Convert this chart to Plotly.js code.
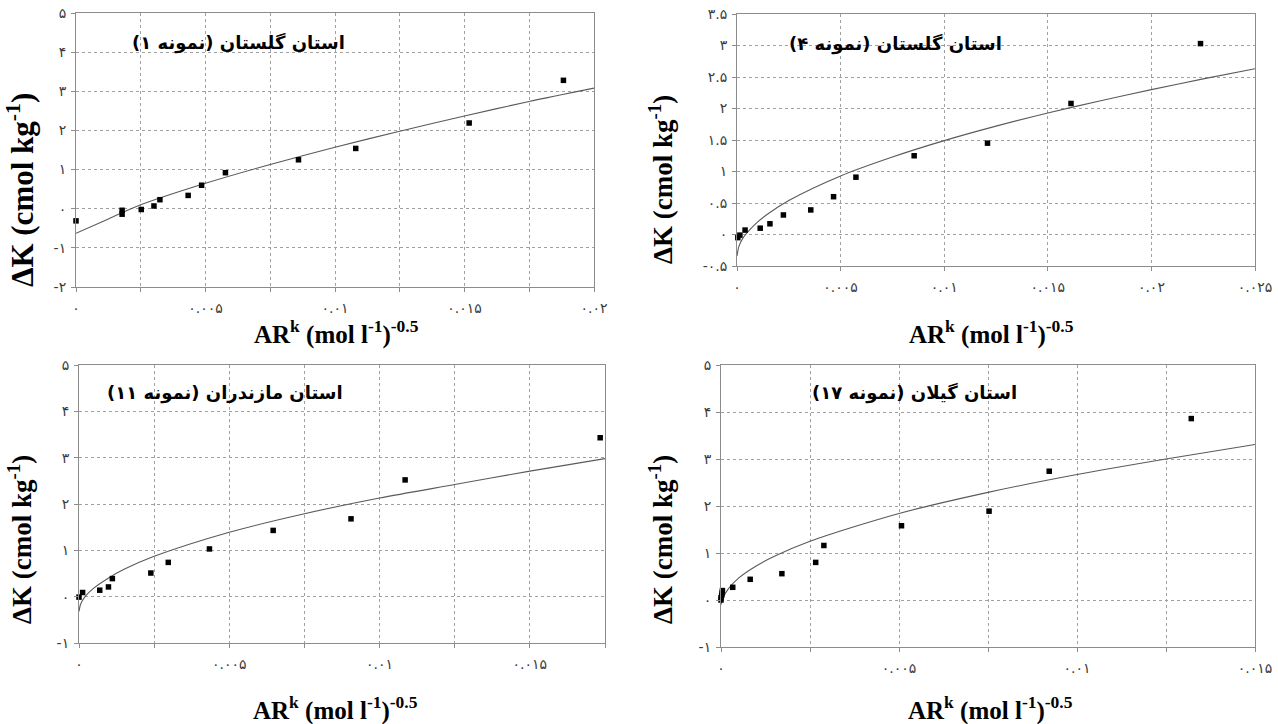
<!DOCTYPE html>
<html><head><meta charset="utf-8">
<script src="https://cdn.plot.ly/plotly-3.0.1.min.js"></script>
<style>html,body{margin:0;padding:0;background:#fff;}#chart{width:1278px;height:724px;}</style>
</head><body><div id="chart"></div>
<script>
// ---- Panel titles (Persian) ----
const panelTitles = [
  'استان گلستان (نمونه ۱)',
  'استان گلستان (نمونه ۴)',
  'استان مازندران (نمونه ۱۱)',
  'استان گیلان (نمونه ۱۷)'
];

// ---- Panel 1 data ----
const p1X = [0, 0.00178, 0.00178, 0.00252, 0.00301, 0.00324, 0.00433, 0.00485, 0.00577, 0.00859, 0.0108, 0.01518, 0.01882];
const p1Y = [-0.31, -0.14, -0.04, -0.02, 0.07, 0.23, 0.34, 0.60, 0.92, 1.25, 1.54, 2.19, 3.28];
const p1FitX = [0, 0.00125, 0.0025, 0.005, 0.0075, 0.01, 0.0125, 0.015, 0.0175, 0.02];
const p1FitY = [-0.63, -0.26, 0.10, 0.65, 1.13, 1.57, 1.98, 2.37, 2.74, 3.08];

// ---- Panel 2 data ----
const p2X = [0.00004, 0.00014, 0.00039, 0.00112, 0.00159, 0.00224, 0.00356, 0.00466, 0.00574, 0.00855, 0.01209, 0.01612, 0.02237];
const p2Y = [-0.05, -0.01, 0.07, 0.10, 0.17, 0.31, 0.39, 0.60, 0.91, 1.25, 1.45, 2.08, 3.03];
const p2FitX = [0, 0.0001, 0.0003, 0.0006, 0.001, 0.0015, 0.0025, 0.005, 0.0075, 0.01, 0.0125, 0.015, 0.0175, 0.02, 0.0225, 0.025];
const p2FitY = [-0.34, -0.18, -0.05, 0.07, 0.20, 0.33, 0.54, 0.93, 1.23, 1.49, 1.72, 1.93, 2.12, 2.30, 2.47, 2.63];

// ---- Panel 3 data ----
const p3X = [0, 0.00012, 0.00069, 0.00098, 0.00111, 0.00239, 0.00297, 0.00434, 0.00646, 0.00905, 0.01085, 0.01734];
const p3Y = [-0.01, 0.09, 0.14, 0.21, 0.39, 0.51, 0.74, 1.03, 1.43, 1.68, 2.52, 3.43];
const p3FitX = [0, 0.00005, 0.0002, 0.0005, 0.001, 0.0015, 0.0025, 0.005, 0.0075, 0.01, 0.0125, 0.015, 0.0175];
const p3FitY = [-0.32, -0.17, 0.0, 0.19, 0.41, 0.59, 0.87, 1.39, 1.79, 2.13, 2.42, 2.71, 2.98];

// ---- Panel 4 data ----
const p4X = [0, 0, 0.00002, 0.00003, 0.00004, 0.00033, 0.00082, 0.00171, 0.00266, 0.00289, 0.00507, 0.00753, 0.00922, 0.01321];
const p4Y = [0.0, 0.05, 0.10, 0.15, 0.20, 0.27, 0.44, 0.56, 0.80, 1.16, 1.58, 1.89, 2.74, 3.86];
const p4FitX = [0, 0.00005, 0.0002, 0.0005, 0.001, 0.0015, 0.0025, 0.005, 0.0075, 0.01, 0.0125, 0.015];
const p4FitY = [-0.10, 0.03, 0.23, 0.47, 0.73, 0.93, 1.25, 1.84, 2.29, 2.67, 3.00, 3.31];

// ---- Tick labels ----
const xTicks1 = [0, 0.005, 0.01, 0.015, 0.02];
const xLabels1 = ['۰', '۰.۰۰۵', '۰.۰۱', '۰.۰۱۵', '۰.۰۲'];
const xMinor1 = [0.0025, 0.0075, 0.0125, 0.0175];
const xTicks2 = [0, 0.005, 0.01, 0.015, 0.02, 0.025];
const xLabels2 = ['۰', '۰.۰۰۵', '۰.۰۱', '۰.۰۱۵', '۰.۰۲', '۰.۰۲۵'];
const xTicks3 = [0, 0.005, 0.01, 0.015];
const xLabels3 = ['۰', '۰.۰۰۵', '۰.۰۱', '۰.۰۱۵'];
const xMinor3 = [0.0025, 0.0075, 0.0125, 0.0175];
const xTicks4 = [0, 0.005, 0.01, 0.015];
const xLabels4 = ['۰', '۰.۰۰۵', '۰.۰۱', '۰.۰۱۵'];
const xMinor4 = [0.0025, 0.0075, 0.0125];
const yTicks1 = [-2, -1, 0, 1, 2, 3, 4, 5];
const yLabels1 = ['-۲', '-۱', '۰', '۱', '۲', '۳', '۴', '۵'];
const yTicks2 = [-0.5, 0, 0.5, 1, 1.5, 2, 2.5, 3, 3.5];
const yLabels2 = ['-۰.۵', '۰', '۰.۵', '۱', '۱.۵', '۲', '۲.۵', '۳', '۳.۵'];
const yTicks3 = [-1, 0, 1, 2, 3, 4, 5];
const yLabels3 = ['-۱', '۰', '۱', '۲', '۳', '۴', '۵'];

const yTitleText = '<b>ΔK (cmol kg<sup>-1</sup>)</b>';
const xTitleText = '<b>AR<sup>k</sup> (mol l<sup>-1</sup>)<sup>-0.5</sup></b>';

// ---- Layout geometry (pixels in the 1278x724 page) ----
const W = 1278, H = 724;
const panels = [
  {pts:[p1X,p1Y], fit:[p1FitX,p1FitY], box:[76,594,13,287], xr:[0,0.02], yr:[-2,5],
   xt:[xTicks1,xLabels1], xm:xMinor1, yt:[yTicks1,yLabels1],
   title:[238,43], xtitle:[336,332], ytitle:[20,190], ysize:31},
  {pts:[p2X,p2Y], fit:[p2FitX,p2FitY], box:[737,1255,14,266], xr:[0,0.025], yr:[-0.5,3.5],
   xt:[xTicks2,xLabels2], xm:null, yt:[yTicks2,yLabels2],
   title:[895,44], xtitle:[991,332], ytitle:[661,180], ysize:27},
  {pts:[p3X,p3Y], fit:[p3FitX,p3FitY], box:[79,605,365,643], xr:[0,0.0175], yr:[-1,5],
   xt:[xTicks3,xLabels3], xm:xMinor3, yt:[yTicks3,yLabels3],
   title:[225,393], xtitle:[335,708], ytitle:[20,540], ysize:27},
  {pts:[p4X,p4Y], fit:[p4FitX,p4FitY], box:[721,1255,365,647], xr:[0,0.015], yr:[-1,5],
   xt:[xTicks4,xLabels4], xm:xMinor4, yt:[yTicks3,yLabels3],
   title:[914,393], xtitle:[990,708], ytitle:[661,540], ysize:27}
];

const serif = 'Liberation Serif, Times New Roman, serif';
const traces = [];
const layout = {
  width: W, height: H, margin: {l:0, r:0, t:0, b:0},
  paper_bgcolor: '#fff', plot_bgcolor: '#fff',
  font: {family: serif},
  showlegend: false, hovermode: false,
  annotations: []
};
const tickFont = {family: 'DejaVu Sans', size: 14, color: '#3a3a3a'};
const gridStyle = {showgrid: true, gridcolor: '#a0a0a0', gridwidth: 1, griddash: 'dot'};

panels.forEach((p, i) => {
  const n = i + 1;
  const xa = 'x' + (n === 1 ? '' : n), ya = 'y' + (n === 1 ? '' : n);
  const xk = 'xaxis' + (n === 1 ? '' : n), yk = 'yaxis' + (n === 1 ? '' : n);
  traces.push({x: p.fit[0], y: p.fit[1], xaxis: xa, yaxis: ya, type: 'scatter', mode: 'lines',
    line: {color: '#5a5a5a', width: 1.1, shape: 'spline', smoothing: 0.8}});
  traces.push({x: p.pts[0], y: p.pts[1], xaxis: xa, yaxis: ya, type: 'scatter', mode: 'markers',
    marker: {symbol: 'square', size: 5.5, color: '#000'}, cliponaxis: false});
  const xaxis = Object.assign({
    domain: [p.box[0]/W, p.box[1]/W], range: p.xr, anchor: ya,
    tickmode: 'array', tickvals: p.xt[0], ticktext: p.xt[1],
    ticks: 'outside', ticklen: 4, tickcolor: '#8c8c8c', ticklabelstandoff: 4,
    showline: true, linecolor: '#8c8c8c', linewidth: 1, mirror: true,
    zeroline: false, tickfont: tickFont, fixedrange: true
  }, gridStyle);
  if (p.xm) {
    xaxis.minor = {tickmode: 'array', tickvals: p.xm, showgrid: true, gridcolor: '#a0a0a0',
      gridwidth: 1, griddash: 'dot', ticks: 'outside', ticklen: 4, tickcolor: '#8c8c8c'};
  }
  const yaxis = Object.assign({
    domain: [1 - p.box[3]/H, 1 - p.box[2]/H], range: p.yr, anchor: xa,
    tickmode: 'array', tickvals: p.yt[0], ticktext: p.yt[1],
    ticks: 'outside', ticklen: 4, tickcolor: '#8c8c8c', ticklabelstandoff: 2,
    showline: true, linecolor: '#8c8c8c', linewidth: 1, mirror: true,
    zeroline: false, tickfont: tickFont, fixedrange: true
  }, gridStyle);
  layout[xk] = xaxis;
  layout[yk] = yaxis;
  layout.annotations.push({
    text: '\u200F' + panelTitles[i] + '\u200F', xref: 'paper', yref: 'paper',
    x: p.title[0]/W, y: 1 - p.title[1]/H, xanchor: 'center', yanchor: 'middle', showarrow: false,
    font: {family: 'DejaVu Sans', size: 18, color: '#000', weight: 'bold'}
  });
  layout.annotations.push({
    text: xTitleText, xref: 'paper', yref: 'paper',
    x: p.xtitle[0]/W, y: 1 - p.xtitle[1]/H, xanchor: 'center', yanchor: 'middle', showarrow: false,
    font: {family: serif, size: 25, color: '#000'}
  });
  layout.annotations.push({
    text: yTitleText, xref: 'paper', yref: 'paper', textangle: -90,
    x: p.ytitle[0]/W, y: 1 - p.ytitle[1]/H, xanchor: 'center', yanchor: 'middle', showarrow: false,
    font: {family: serif, size: p.ysize, color: '#000'}
  });
});

Plotly.newPlot('chart', traces, layout, {displayModeBar: false, staticPlot: true});
</script>
</body></html>
